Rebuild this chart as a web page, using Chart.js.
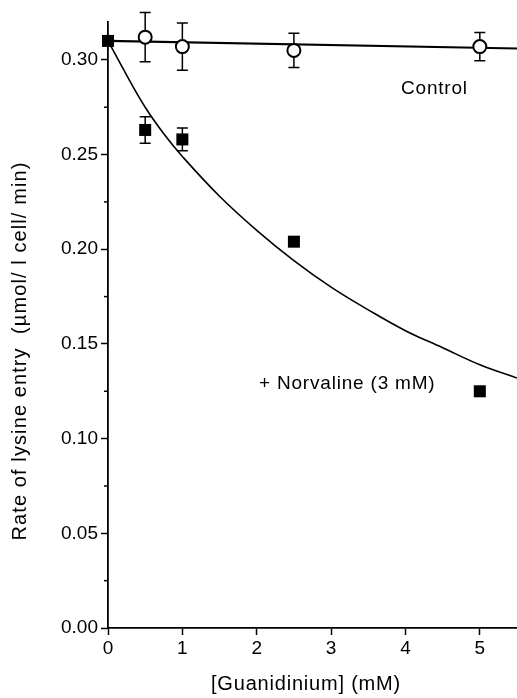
<!DOCTYPE html>
<html>
<head>
<meta charset="utf-8">
<script src="https://cdn.jsdelivr.net/npm/chart.js@4.4.1/dist/chart.umd.min.js"></script>
<style>
html,body{margin:0;padding:0;background:#fff;}
#wrap{width:517px;height:698px;position:relative;}
</style>
</head>
<body>
<div id="wrap"><canvas id="c" width="517" height="698"></canvas></div>
<script>
// ---- data ----
const controlX = [0.5, 1, 2.5, 5];
const controlY = [0.312, 0.307, 0.305, 0.307];
const controlErr = [0.013, 0.0125, 0.009, 0.0075];

const norvX = [0, 0.5, 1, 2.5, 5];
const norvY = [0.310, 0.263, 0.258, 0.204, 0.125];
const norvErr = [0, 0.007, 0.006, 0, 0];

const controlFitX = [0, 5.5];
const controlFitY = [0.310, 0.306];

const norvFitX = [0, 0.25, 0.5, 0.75, 1, 1.5, 2, 2.5, 3, 3.5, 4, 4.5, 5, 5.5];
const norvFitY = [0.310, 0.292, 0.275, 0.261, 0.249, 0.228, 0.210, 0.194, 0.180, 0.168, 0.157, 0.148, 0.139, 0.132];

const xTicks = [0, 1, 2, 3, 4, 5];
const yTicks = [0.00, 0.05, 0.10, 0.15, 0.20, 0.25, 0.30];
const yMinorTicks = [0.025, 0.075, 0.125, 0.175, 0.225, 0.275];

const xTitle = '[Guanidinium] (mM)';
const yTitle = 'Rate of lysine entry  (\u00b5mol/ l cell/ min)';
const labelControl = 'Control';
const labelNorv = '+ Norvaline (3 mM)';

const pts = (xs, ys) => xs.map((x, i) => ({x: x, y: ys[i]}));
const FONT = '"Liberation Sans", Arial, Helvetica, sans-serif';

const errorBars = {
  id: 'errorBars',
  beforeDatasetsDraw(chart) {
    const ctx = chart.ctx, xs = chart.scales.x, ys = chart.scales.y;
    ctx.save();
    ctx.strokeStyle = '#000';
    ctx.lineWidth = 1.5;
    chart.data.datasets.forEach(ds => {
      if (!ds.err) return;
      ds.data.forEach((p, i) => {
        const e = ds.err[i];
        if (!e) return;
        const px = xs.getPixelForValue(p.x);
        const y1 = ys.getPixelForValue(p.y + e);
        const y2 = ys.getPixelForValue(p.y - e);
        ctx.beginPath();
        ctx.moveTo(px, y1); ctx.lineTo(px, y2);
        ctx.moveTo(px - 5.5, y1); ctx.lineTo(px + 5.5, y1);
        ctx.moveTo(px - 5.5, y2); ctx.lineTo(px + 5.5, y2);
        ctx.stroke();
      });
    });
    ctx.restore();
  }
};

const extras = {
  id: 'extras',
  afterDraw(chart) {
    const ctx = chart.ctx, ys = chart.scales.y;
    const left = chart.chartArea.left;
    ctx.save();
    ctx.strokeStyle = '#000';
    ctx.lineWidth = 1.5;
    yMinorTicks.forEach(v => {
      const py = ys.getPixelForValue(v);
      ctx.beginPath();
      ctx.moveTo(left - 4, py); ctx.lineTo(left, py);
      ctx.stroke();
    });
    ctx.fillStyle = '#000';
    ctx.font = '20px ' + FONT;
    ctx.textAlign = 'center';
    ctx.textBaseline = 'middle';
    try { ctx.letterSpacing = '0.8px'; } catch (e) {}
    ctx.fillText(xTitle, 306, 684);
    try { ctx.letterSpacing = '1.1px'; } catch (e) {}
    ctx.save();
    ctx.translate(20, 351);
    ctx.rotate(-Math.PI / 2);
    ctx.fillText(yTitle, 0, 0);
    ctx.restore();
    try { ctx.letterSpacing = '0.8px'; } catch (e) {}
    ctx.font = '19px ' + FONT;
    ctx.textAlign = 'left';
    ctx.fillText(labelControl, 401, 89);
    ctx.fillText(labelNorv, 259, 384);
    ctx.restore();
  }
};

new Chart(document.getElementById('c'), {
  type: 'scatter',
  data: {
    datasets: [
      {
        type: 'line', data: pts(norvFitX, norvFitY), showLine: true,
        borderColor: '#000', borderWidth: 1.6, pointRadius: 0, fill: false,
        tension: 0.4, order: 5
      },
      {
        type: 'line', data: pts(controlFitX, controlFitY), showLine: true,
        borderColor: '#000', borderWidth: 2.2, pointRadius: 0, fill: false, order: 4
      },
      {
        data: pts(controlX, controlY), err: controlErr, clip: false,
        pointStyle: 'circle', pointRadius: 6.5, pointBackgroundColor: '#fff',
        pointBorderColor: '#000', pointBorderWidth: 2, showLine: false, order: 2
      },
      {
        data: pts(norvX, norvY), err: norvErr, clip: false,
        pointStyle: 'rect', pointRadius: 8.5, pointBackgroundColor: '#000',
        pointBorderColor: '#000', pointBorderWidth: 0, showLine: false, order: 1
      }
    ]
  },
  options: {
    responsive: false,
    animation: false,
    events: [],
    layout: { autoPadding: false, padding: { top: 22, right: 0, bottom: 0, left: 0 } },
    plugins: { legend: { display: false }, tooltip: { enabled: false } },
    scales: {
      x: {
        type: 'linear', min: 0, max: 5.5,
        afterFit: s => { s.height = 70; },
        afterBuildTicks: s => { s.ticks = xTicks.map(v => ({value: v})); },
        ticks: { color: '#000', font: { size: 19, family: FONT }, padding: 2,
                 callback: v => String(v), maxRotation: 0, autoSkip: false },
        grid: { display: true, drawOnChartArea: false, drawTicks: true, tickLength: 7,
                tickColor: '#000', tickWidth: 1.5 },
        border: { display: true, color: '#000', width: 1.8 }
      },
      y: {
        type: 'linear', min: 0, max: 0.32,
        afterFit: s => { s.width = 108; },
        afterBuildTicks: s => { s.ticks = yTicks.map(v => ({value: v})); },
        ticks: { color: '#000', font: { size: 19, family: FONT }, padding: 3,
                 callback: v => Number(v).toFixed(2), autoSkip: false },
        grid: { display: true, drawOnChartArea: false, drawTicks: true, tickLength: 7,
                tickColor: '#000', tickWidth: 1.5 },
        border: { display: true, color: '#000', width: 1.8 }
      }
    }
  },
  plugins: [errorBars, extras]
});
</script>
</body>
</html>
